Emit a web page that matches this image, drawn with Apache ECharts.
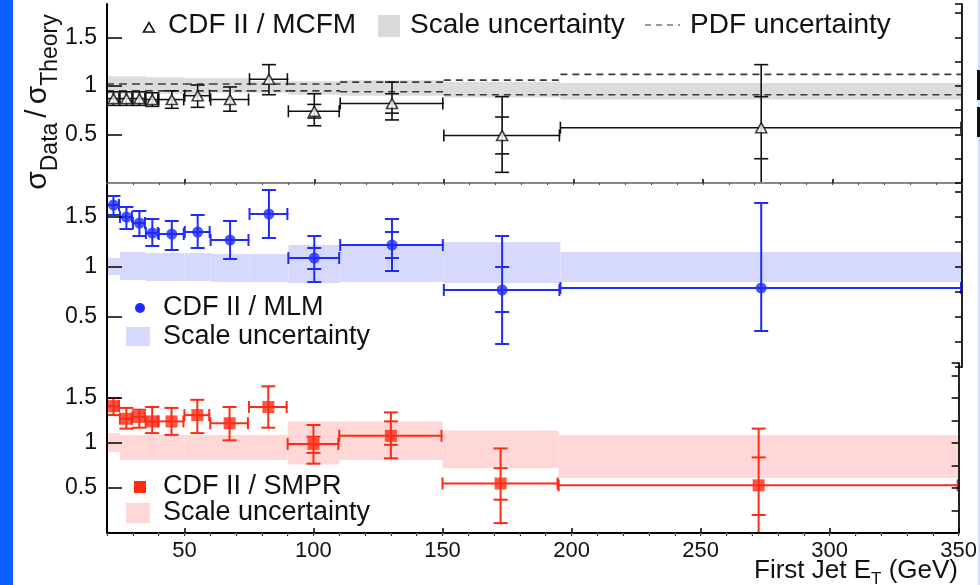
<!DOCTYPE html>
<html><head><meta charset="utf-8">
<script src="https://cdn.jsdelivr.net/npm/echarts@6/dist/echarts.min.js"></script>
<style>html,body{margin:0;padding:0;background:#fff}#c{width:980px;height:585px}</style>
</head><body><div id="c"></div>
<script>
// ---------- data ----------
const binLo = [20, 25, 30, 35, 40, 50, 60, 75, 90, 110, 150, 195];
const binHi = [25, 30, 35, 40, 50, 60, 75, 90, 110, 150, 195, 350];
const binCenter = [22.5, 27.5, 32.5, 37.5, 45, 55, 67.5, 82.5, 100, 130, 172.5, 272.5];
const xTicks = [50, 100, 150, 200, 250, 300, 350];
const yTicks = [0.5, 1, 1.5];

// CDF II / MCFM
const mcfmRatio = [0.87, 0.87, 0.87, 0.86, 0.86, 0.90, 0.86, 1.07, 0.74, 0.82, 0.49, 0.57];
const mcfmTotLo = [0.80, 0.80, 0.80, 0.79, 0.77, 0.78, 0.74, 0.91, 0.59, 0.65, 0.11, -0.08];
const mcfmTotHi = [0.94, 0.94, 0.94, 0.93, 0.95, 1.01, 0.99, 1.22, 0.92, 1.04, 0.89, 1.22];
const mcfmStatLo = [null, null, null, null, null, null, null, null, 0.67, 0.72, 0.30, 0.25];
const mcfmStatHi = [null, null, null, null, null, null, null, null, 0.81, 0.92, 0.68, 0.89];
const mcfmScaleLo = [0.92, 0.92, 0.92, 0.92, 0.92, 0.92, 0.93, 0.93, 0.91, 0.90, 0.88, 0.86];
const mcfmScaleHi = [1.10, 1.10, 1.10, 1.09, 1.09, 1.08, 1.08, 1.05, 1.05, 1.06, 1.04, 1.03];
const mcfmPdfLo = [0.95, 0.95, 0.95, 0.95, 0.95, 0.95, 0.95, 0.95, 0.95, 0.94, 0.91, 0.91];
const mcfmPdfHi = [1.02, 1.02, 1.02, 1.02, 1.02, 1.02, 1.02, 1.02, 1.02, 1.04, 1.06, 1.12];

// CDF II / MLM
const mlmRatio = [1.62, 1.50, 1.44, 1.34, 1.33, 1.35, 1.27, 1.53, 1.09, 1.22, 0.77, 0.79];
const mlmTotLo = [1.52, 1.38, 1.31, 1.21, 1.17, 1.19, 1.08, 1.29, 0.85, 0.96, 0.23, 0.36];
const mlmTotHi = [1.71, 1.60, 1.56, 1.48, 1.46, 1.52, 1.46, 1.77, 1.31, 1.48, 1.31, 1.64];
const mlmStatLo = [null, null, null, null, null, null, null, null, 0.98, 1.09, 0.55, null];
const mlmStatHi = [null, null, null, null, null, null, null, null, 1.19, 1.35, 1.00, null];
const mlmScaleLo = [0.92, 0.87, 0.87, 0.86, 0.86, 0.86, 0.85, 0.85, 0.84, 0.85, 0.84, 0.85];
const mlmScaleHi = [1.09, 1.15, 1.15, 1.14, 1.14, 1.14, 1.13, 1.13, 1.22, 1.22, 1.25, 1.15];

// CDF II / SMPR
const smprRatio = [1.41, 1.27, 1.29, 1.24, 1.24, 1.31, 1.22, 1.40, 0.99, 1.08, 0.55, 0.53];
const smprTotLo = [1.31, 1.16, 1.17, 1.11, 1.09, 1.11, 1.03, 1.17, 0.77, 0.83, 0.11, 0.00];
const smprTotHi = [1.50, 1.39, 1.37, 1.40, 1.39, 1.48, 1.40, 1.63, 1.20, 1.34, 0.94, 1.16];
const smprStatLo = [null, null, null, null, null, null, null, null, 0.89, 0.98, 0.37, 0.20];
const smprStatHi = [null, null, null, null, null, null, null, null, 1.07, 1.24, 0.72, 0.84];
const smprScaleLo = [0.90, 0.81, 0.81, 0.81, 0.81, 0.81, 0.81, 0.81, 0.76, 0.81, 0.72, 0.61];
const smprScaleHi = [1.11, 1.09, 1.09, 1.09, 1.09, 1.09, 1.09, 1.09, 1.24, 1.24, 1.14, 1.09];

// ---------- chart ----------
const F = 'Liberation Sans, Arial, sans-serif';
const TXT = '#111';
const BLUE = '#1e2cff';
const RED = '#ff2a14';
const yMax = [1.845, 1.84, 1.889];

const chart = echarts.init(document.getElementById('c'), null, {renderer: 'canvas'});

const grids = [
  {left: 107, top: 4, width: 855, height: 179},
  {left: 107, top: 183, width: 855, height: 184},
  {left: 107, top: 363, width: 855, height: 170}
];

const xAxes = [];
const yAxes = [];
const majorX = [], majorY = [];
function addX(o) { xAxes.push(Object.assign({type: 'value', min: 20, max: 350, z: 10, splitLine: {show: false}}, o)); return xAxes.length - 1; }
function addY(o) { yAxes.push(Object.assign({type: 'value', z: 10, splitLine: {show: false}}, o)); return yAxes.length - 1; }

// top grid
majorX.push(addX({gridIndex: 0, splitNumber: 7, axisLine: {lineStyle: {color: '#000', width: 2}},
  axisTick: {inside: true, length: 4, lineStyle: {color: '#000', width: 1.5}}, axisLabel: {show: false}}));
addX({gridIndex: 0, interval: 10, axisLine: {show: false}, axisTick: {inside: true, length: 2, lineStyle: {color: '#444'}}, axisLabel: {show: false}});
addX({gridIndex: 0, position: 'top', axisLine: {lineStyle: {color: '#888', width: 2}}, axisTick: {show: false}, axisLabel: {show: false}});
// middle grid
majorX.push(addX({gridIndex: 1, show: false}));
// bottom grid
majorX.push(addX({gridIndex: 2, splitNumber: 7, axisLine: {lineStyle: {color: '#000', width: 2}},
  axisTick: {inside: true, length: 5, lineStyle: {color: '#000', width: 1.5}},
  axisLabel: {fontFamily: F, fontSize: 22, color: TXT, margin: 7, showMinLabel: false,
    formatter: v => xTicks.indexOf(v) >= 0 ? String(v) : ''}}));
addX({gridIndex: 2, interval: 10, axisLine: {show: false}, axisTick: {inside: true, length: 3, lineStyle: {color: '#222'}}, axisLabel: {show: false}});
addX({gridIndex: 2, position: 'top', interval: 10, axisLine: {show: false}, axisTick: {inside: true, length: 2, lineStyle: {color: '#777', width: 1.5}}, axisLabel: {show: false}});

for (let g = 0; g < 3; g++) {
  majorY.push(addY({gridIndex: g, min: 0, max: yMax[g], interval: 0.5,
    axisLine: {lineStyle: {color: '#000', width: 2}},
    axisTick: {inside: true, length: 15, lineStyle: {color: '#000', width: 1.5}},
    axisLabel: {fontFamily: F, fontSize: 23, color: TXT, margin: 10, showMinLabel: false, showMaxLabel: false,
      formatter: v => yTicks.indexOf(v) >= 0 ? String(v) : ''}}));
  addY({gridIndex: g, min: 0, max: yMax[g], interval: 0.25, axisLine: {show: false},
    axisTick: {inside: true, length: 7, lineStyle: {color: '#000', width: 1.5}}, axisLabel: {show: false}});
  addY({gridIndex: g, min: 0, max: yMax[g], position: 'right', axisLine: {lineStyle: {color: '#222', width: 2}},
    axisTick: {show: false}, axisLabel: {show: false}});
}

function bandSeries(g, lo, hi, color) {
  return {
    type: 'custom', xAxisIndex: majorX[g], yAxisIndex: majorY[g], clip: true, z: 1, silent: true,
    data: binLo.map((x0, i) => [x0, binHi[i], lo[i], hi[i]]),
    renderItem: (params, api) => {
      const a = api.coord([api.value(0), api.value(3)]);
      const b = api.coord([api.value(1), api.value(2)]);
      return {type: 'rect', shape: {x: a[0], y: a[1], width: b[0] - a[0], height: b[1] - a[1]}, style: {fill: color}};
    }
  };
}
function pdfSeries(g, vals) {
  return {
    type: 'custom', xAxisIndex: majorX[g], yAxisIndex: majorY[g], clip: true, z: 2, silent: true,
    data: binLo.map((x0, i) => [x0, binHi[i], vals[i]]),
    renderItem: (params, api) => {
      const a = api.coord([api.value(0), api.value(2)]);
      const b = api.coord([api.value(1), api.value(2)]);
      return {type: 'line', shape: {x1: a[0], y1: a[1], x2: b[0], y2: b[1]},
        style: {stroke: '#3a3a3a', lineWidth: 1.6, lineDash: [7, 5]}};
    }
  };
}
function num(v) { return (v === null || v === undefined) ? NaN : v; }
function errSeries(g, ratio, tLo, tHi, sLo, sHi, color, lw) {
  return {
    type: 'custom', xAxisIndex: majorX[g], yAxisIndex: majorY[g], clip: true, z: 3, silent: true,
    data: binCenter.map((xc, i) => [xc, ratio[i], binLo[i], binHi[i], tLo[i], tHi[i], num(sLo[i]), num(sHi[i])]),
    renderItem: (params, api) => {
      const xc = api.value(0), y = api.value(1);
      const pc = api.coord([xc, y]);
      const pL = api.coord([api.value(2), y]);
      const pR = api.coord([api.value(3), y]);
      const pLo = api.coord([xc, api.value(4)]);
      const pHi = api.coord([xc, api.value(5)]);
      const st = {stroke: color, lineWidth: lw, fill: null};
      const ch = [];
      const ln = (x1, y1, x2, y2) => ch.push({type: 'line', shape: {x1, y1, x2, y2}, style: st});
      const cap = 7, hcap = 6;
      ln(pL[0], pc[1], pR[0], pc[1]);
      ln(pL[0], pc[1] - hcap, pL[0], pc[1] + hcap);
      ln(pR[0] - 1, pc[1] - hcap, pR[0] - 1, pc[1] + hcap);
      ln(pc[0], pLo[1], pc[0], pHi[1]);
      ln(pc[0] - cap, pLo[1], pc[0] + cap, pLo[1]);
      ln(pc[0] - cap, pHi[1], pc[0] + cap, pHi[1]);
      const sl = api.value(6), sh = api.value(7);
      if (!isNaN(sl)) { const p = api.coord([xc, sl]); ln(pc[0] - cap, p[1], pc[0] + cap, p[1]); }
      if (!isNaN(sh)) { const p = api.coord([xc, sh]); ln(pc[0] - cap, p[1], pc[0] + cap, p[1]); }
      return {type: 'group', children: ch};
    }
  };
}
function markSeries(g, ratio, symbol, size, itemStyle) {
  return {
    type: 'scatter', xAxisIndex: majorX[g], yAxisIndex: majorY[g], z: 4, silent: true,
    symbol, symbolSize: size, itemStyle,
    data: binCenter.map((xc, i) => [xc, ratio[i]])
  };
}

const series = [
  bandSeries(0, mcfmScaleLo, mcfmScaleHi, '#dcdcdc'),
  pdfSeries(0, mcfmPdfLo),
  pdfSeries(0, mcfmPdfHi),
  errSeries(0, mcfmRatio, mcfmTotLo, mcfmTotHi, mcfmStatLo, mcfmStatHi, '#111', 1.6),
  markSeries(0, mcfmRatio, 'triangle', [11, 10], {color: '#fff', borderColor: '#111', borderWidth: 1.6}),
  bandSeries(1, mlmScaleLo, mlmScaleHi, '#d6d9fc'),
  errSeries(1, mlmRatio, mlmTotLo, mlmTotHi, mlmStatLo, mlmStatHi, BLUE, 2),
  markSeries(1, mlmRatio, 'circle', 11, {color: BLUE}),
  bandSeries(2, smprScaleLo, smprScaleHi, '#ffd7d7'),
  errSeries(2, smprRatio, smprTotLo, smprTotHi, smprStatLo, smprStatHi, RED, 2),
  markSeries(2, smprRatio, 'rect', 12, {color: RED})
];

function txt(x, y, s, size, extra) {
  return Object.assign({type: 'text', x, y, z: 20,
    style: {text: s, fontFamily: F, fontSize: size, fill: TXT, align: 'left', verticalAlign: 'middle'}}, extra || {});
}

const graphic = [
  {type: 'rect', shape: {x: 0, y: 0, width: 13, height: 585}, style: {fill: '#0b5eff'}, z: 20},
  {type: 'rect', shape: {x: 978, y: 0, width: 2, height: 585}, style: {fill: '#cfdcff'}, z: 20},
  {type: 'rect', shape: {x: 977, y: 70, width: 3, height: 30}, style: {fill: '#111'}, z: 21},
  {type: 'rect', shape: {x: 977, y: 107, width: 3, height: 30}, style: {fill: '#111'}, z: 21},
  // top legend
  {type: 'polygon', shape: {points: [[143.5, 32], [154.5, 32], [149, 22.5]]}, style: {fill: '#fff', stroke: '#111', lineWidth: 1.6}, z: 20},
  txt(168, 25, 'CDF II / MCFM', 28),
  {type: 'rect', shape: {x: 378, y: 15, width: 22, height: 22}, style: {fill: '#d9d9d9'}, z: 20},
  txt(410, 25, 'Scale uncertainty', 28),
  {type: 'line', shape: {x1: 645, y1: 25, x2: 680, y2: 25}, style: {stroke: '#777', lineWidth: 1.5, lineDash: [6, 5]}, z: 20},
  txt(690, 25, 'PDF uncertainty', 28),
  // middle legend
  {type: 'circle', shape: {cx: 140, cy: 308, r: 5}, style: {fill: BLUE}, z: 20},
  txt(163, 308, 'CDF II / MLM', 27),
  {type: 'rect', shape: {x: 126, y: 327, width: 24, height: 19}, style: {fill: '#d6d9fc'}, z: 20},
  txt(163, 337, 'Scale uncertainty', 27),
  // bottom legend
  {type: 'rect', shape: {x: 134, y: 481, width: 12, height: 12}, style: {fill: RED}, z: 20},
  txt(163, 487, 'CDF II / SMPR', 27),
  {type: 'rect', shape: {x: 126, y: 503, width: 24, height: 20}, style: {fill: '#ffd7d7'}, z: 20},
  txt(163, 513, 'Scale uncertainty', 27),
  // axis titles
  {type: 'text', x: 958, y: 571, z: 20,
    style: {text: '{m|First Jet E}{t|T}{m| (GeV)}', align: 'right', verticalAlign: 'middle', fontFamily: F, fontSize: 26, fill: TXT,
      rich: {
        m: {fontFamily: F, fontSize: 26, lineHeight: 26, fill: TXT, verticalAlign: 'top'},
        t: {fontFamily: F, fontSize: 17, lineHeight: 17, fill: TXT, verticalAlign: 'top', padding: [13, 0, 0, 0]}
      }}},
  {type: 'text', x: 38, y: 102, rotation: Math.PI / 2, z: 20,
    style: {text: '{s|σ}{d|Data}{q|/}{s|σ}{d|Theory}', align: 'center', verticalAlign: 'middle', fontFamily: F, fontSize: 30, fill: TXT,
      rich: {
        s: {fontFamily: F, fontSize: 30, lineHeight: 30, fill: TXT, verticalAlign: 'top'},
        q: {fontFamily: F, fontSize: 30, lineHeight: 30, fill: TXT, verticalAlign: 'top', padding: [0, 5, 0, 5]},
        d: {fontFamily: F, fontSize: 23, lineHeight: 23, fill: TXT, verticalAlign: 'top', padding: [16, 0, 0, 0]}
      }}}
];

chart.setOption({
  animation: false,
  backgroundColor: '#fff',
  grid: grids,
  xAxis: xAxes,
  yAxis: yAxes,
  series,
  graphic
});
</script>
</body></html>
